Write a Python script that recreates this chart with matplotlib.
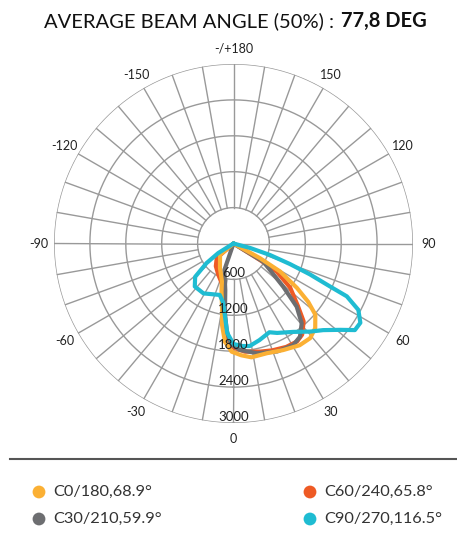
import numpy as np
import matplotlib.pyplot as plt

plt.rcParams['font.family'] = ['Lato', 'DejaVu Sans']

# intensity curves, angle in degrees (0 = down, + = right), value in cd
c0_ang = [-56, -50, -29, -17, -14, -10, -8, -5, -1, 4, 9, 17, 25, 33, 39, 44, 49, 52, 55, 59, 61, 64]
c0_val = [0, 293, 467, 662, 829, 1101, 1375, 1648, 1808, 1873, 1926, 1917, 1965, 2028, 2036, 1966, 1812, 1584, 1295, 909, 507, 0]

c60_ang = [-55, -49, -38, -26, -16, -12, -9, -6, -2, 6, 14, 20, 27, 33, 37, 42, 46, 52, 57, 58, 61]
c60_val = [0, 371, 480, 580, 700, 900, 1150, 1450, 1720, 1818, 1862, 1900, 1940, 1952, 1907, 1752, 1493, 1205, 862, 521, 0]

c30_ang = [-21, -19, -10, -7, -4.5, -2, 3.5, 12, 22, 30.5, 35.5, 40.5, 45, 49, 52.4, 58.6, 62]
c30_val = [0, 468, 790, 1175, 1450, 1669, 1783, 1875, 1947, 1969, 1913, 1755, 1494, 1102, 840, 583, 0]

c90_ang = [-62, -58, -54, -49, -42, -31, -15, -10, -7, -4, 0, 5, 9, 15, 22, 26, 34, 41, 46, 51, 54.5, 58, 62, 65, 66, 68, 70, 72.5, 75, 78]
c90_val = [0, 300, 557, 849, 967, 973, 890, 1000, 1200, 1500, 1680, 1720, 1735, 1672, 1600, 1663, 1782, 1951, 2084, 2293, 2492, 2500, 2363, 2090, 1767, 1376, 1004, 639, 286, 0]

series = [
    ('C60/240,65.8°', c60_ang, c60_val, '#ee5a24'),
    ('C30/210,59.9°', c30_ang, c30_val, '#6d6e71'),
    ('C0/180,68.9°', c0_ang, c0_val, '#fbb034'),
    ('C90/270,116.5°', c90_ang, c90_val, '#1fbcd2'),
]

rings = [600, 1200, 1800, 2400, 3000]
angle_ticks = [-150, -120, -90, -60, -30, 0, 30, 60, 90, 120, 150, 180]
angle_labels = ['-150', '-120', '-90', '-60', '-30', '0', '30', '60', '90', '120', '150', '-/+180']

legend_order = ['C0/180,68.9°', 'C60/240,65.8°', 'C30/210,59.9°', 'C90/270,116.5°']

fig = plt.figure(figsize=(4.57, 5.33), dpi=100)
ax = fig.add_axes([54 / 457, 110 / 533, 359 / 457, 359 / 533], projection='polar')
ax.set_theta_zero_location('S')
ax.set_theta_direction(1)
ax.set_ylim(0, 3000)
ax.grid(False)
ax.set_xticks([])
ax.set_yticks([])
ax.spines['polar'].set_visible(False)

gc = '#999999'
tt = np.linspace(0, 2 * np.pi, 721)
for r in rings:
    ax.plot(tt, np.full_like(tt, r), color=gc, lw=1, zorder=1)
for a in range(0, 360, 10):
    r0 = 0 if a in (90, 270) else rings[0]
    ax.plot([np.radians(a)] * 2, [r0, rings[-1]], color=gc, lw=1, zorder=1)

for a, lab in zip(angle_ticks, angle_labels):
    ax.text(np.radians(a), 3260, lab, ha='center', va='center', fontsize=9, color='#222222')
for r in rings:
    ax.text(0, r - 100, str(r), ha='center', va='center', fontsize=9.5, color='#222222', zorder=10)

for i, (name, ang, val, col) in enumerate(series):
    ax.plot(np.radians(ang), val, color=col, lw=3, solid_joinstyle='round',
            solid_capstyle='round', zorder=3 + i)

# overlay in pixel coords for title, separator and legend
ov = fig.add_axes([0, 0, 1, 1])
ov.set_xlim(0, 457)
ov.set_ylim(533, 0)
ov.axis('off')

fig.canvas.draw()
rend = fig.canvas.get_renderer()
t1 = ov.text(0, 21, 'AVERAGE BEAM ANGLE (50%) :', fontsize=14.5, color='#111111', va='center', ha='left')
t2 = ov.text(0, 21, '77,8 DEG', fontsize=14.5, color='#111111', va='center', ha='left', fontweight='bold')
w1 = t1.get_window_extent(rend).width
w2 = t2.get_window_extent(rend).width
gap = 7
x0 = 235.5 - (w1 + gap + w2) / 2
t1.set_x(x0)
t2.set_x(x0 + w1 + gap)

ov.plot([10, 457], [459, 459], color='#555555', lw=1.5)

colors = {name: col for name, _, _, col in series}
pos = [(39, 492), (310, 492), (39, 519), (310, 519)]
for name, (px, py) in zip(legend_order, pos):
    ov.scatter([px], [py], s=85, color=colors[name], edgecolors='none')
    ov.text(px + 14, py, name, fontsize=11.8, color='#333333', va='center', ha='left')

fig.savefig('out.png', dpi=100)
